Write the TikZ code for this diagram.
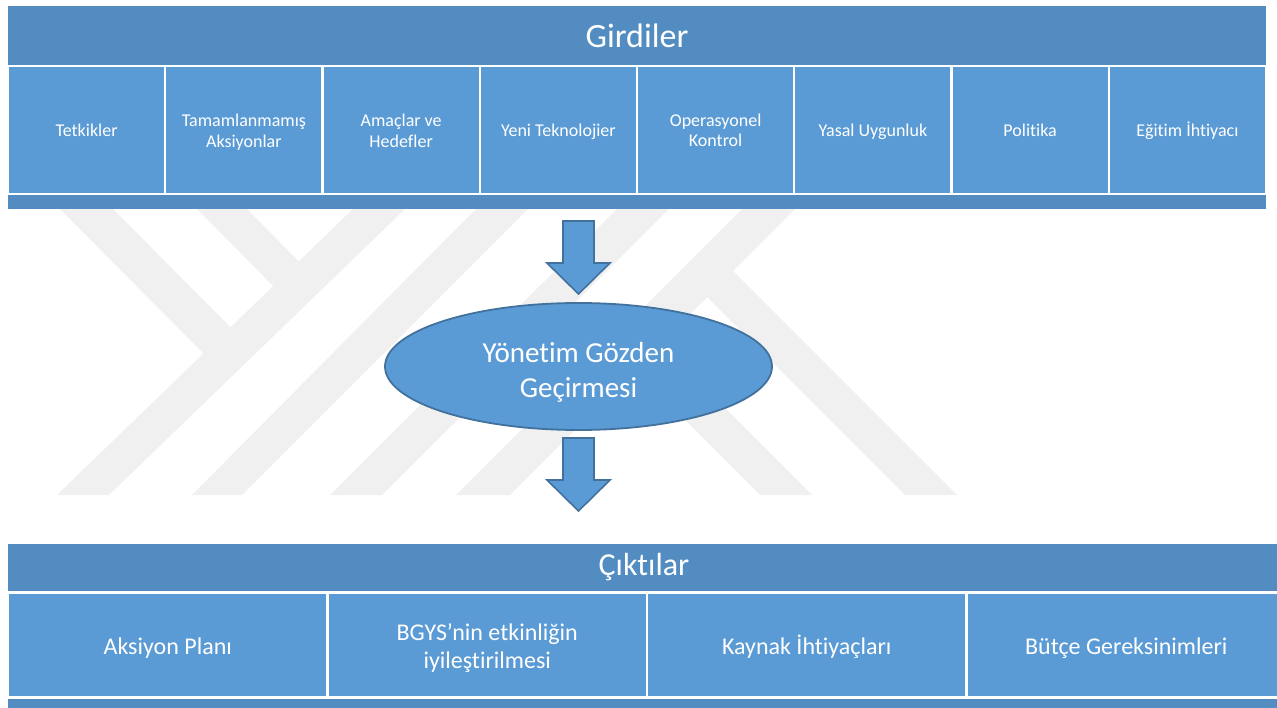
\documentclass[tikz,border=0pt]{standalone}
\usepackage{fontspec}
\setmainfont{Carlito}[Ligatures={TeX,NoCommon}]
\usetikzlibrary{shapes.geometric}
\definecolor{hdr}{RGB}{83,140,193}
\definecolor{cellc}{RGB}{91,155,213}
\definecolor{edgec}{RGB}{65,113,156}
\definecolor{wmc}{RGB}{240,240,240}
\newcommand\mystrut{\rule[-0.15\baselineskip]{0pt}{\baselineskip}}
\begin{document}
\begin{tikzpicture}[x=1pt,y=-1pt,
  wmark/.style={fill=wmc, draw=none},
  container/.style={fill=hdr, draw=none, inner sep=0pt, anchor=north west},
  headtext/.style={text=white, inner sep=0pt},
  topcell/.style={draw=white, line width=2.4pt, fill=cellc, minimum width=157.25pt, minimum height=128pt, inner sep=0pt, text=white, font=\fontsize{18}{20}\selectfont, align=center},
  botcell/.style={draw=white, line width=2.4pt, fill=cellc, minimum width=319.5pt, minimum height=105pt, inner sep=0pt, text=white, font=\fontsize{24}{28}\selectfont, align=center},
  review/.style={ellipse, draw=edgec, line width=1.8pt, fill=cellc, minimum width=387pt, minimum height=127pt, inner sep=0pt},
  reviewtext/.style={inner sep=0pt, text=white, font=\fontsize{29}{35}\selectfont, align=center},
  blockdown/.pic={\draw[draw=edgec, line width=1.6pt, fill=cellc, line join=miter] (-15.5,0) -- (15.5,0) -- (15.5,42) -- (31.5,42) -- (0,73) -- (-31.5,42) -- (-15.5,42) -- cycle;}
]
\clip (0,0) rectangle (1277,708);
\fill[white] (0,0) rectangle (1277,708);
% watermark
\fill[wmark] (353,209) -- (405,209) -- (109,495) -- (57,495) -- cycle;
\fill[wmark] (476,209) -- (528,209) -- (242,495) -- (192,495) -- cycle;
\fill[wmark] (617,209) -- (669,209) -- (382,495) -- (330,495) -- cycle;
\fill[wmark] (742,209) -- (795,209) -- (510,495) -- (456,495) -- cycle;
\fill[wmark] (60,209) -- (113,209) -- (242.9,339.9) -- (215.9,365.9) -- cycle;
\fill[wmark] (197,209) -- (247,209) -- (311.2,274.2) -- (285.7,298.7) -- cycle;
\fill[wmark] (905,495) -- (957,495) -- (720.2,258.2) -- (694.1,284.1) -- cycle;
\fill[wmark] (760,495) -- (812,495) -- (647.4,330.4) -- (621.4,356.4) -- cycle;
% inputs
\node[container, minimum width=1258pt, minimum height=203pt] (inbox) at (8,6) {};
\node[headtext, font=\fontsize{34}{38}\selectfont] (girdiler) at (637,36) {Girdiler};
\node[topcell] (i1) at (86.625,130) {\mystrut Tetkikler};
\node[topcell] (i2) at (243.875,130) {\mystrut Tamamlanmamış\\\mystrut Aksiyonlar};
\node[topcell] (i3) at (401.125,130) {\mystrut Amaçlar ve\\\mystrut Hedefler};
\node[topcell] (i4) at (558.375,130) {\mystrut Yeni Teknolojier};
\node[topcell] (i5) at (715.625,130) {\mystrut Operasyonel\\\mystrut Kontrol};
\node[topcell] (i6) at (872.875,130) {\mystrut Yasal Uygunluk};
\node[topcell] (i7) at (1030.125,130) {\mystrut Politika};
\node[topcell] (i8) at (1187.375,130) {\mystrut Eğitim İhtiyacı};
% review
\node[review] (rev) at (578.5,366.5) {};
\node[reviewtext] (revtext) at ([yshift=-1.5pt]rev.center) {\mystrut Yönetim Gözden\\\mystrut Geçirmesi};
\coordinate (a1) at (578.5,221);
\coordinate (a2) at (578.5,438);
\pic at (a1) {blockdown};
\pic at (a2) {blockdown};
% outputs
\node[container, minimum width=1278pt, minimum height=170pt] (outbox) at (8,544) {};
\node[headtext, font=\fontsize{32}{36}\selectfont] (ciktilar) at (644,567.5) {Çıktılar};
\node[botcell] (o1) at (167.75,645) {\mystrut Aksiyon Planı};
\node[botcell] (o2) at (487.25,645) {\mystrut BGYS’nin etkinliğin\\\mystrut iyileştirilmesi};
\node[botcell] (o3) at (806.75,645) {\mystrut Kaynak İhtiyaçları};
\node[botcell] (o4) at (1126.25,645) {\mystrut Bütçe Gereksinimleri};
\end{tikzpicture}
\end{document}
